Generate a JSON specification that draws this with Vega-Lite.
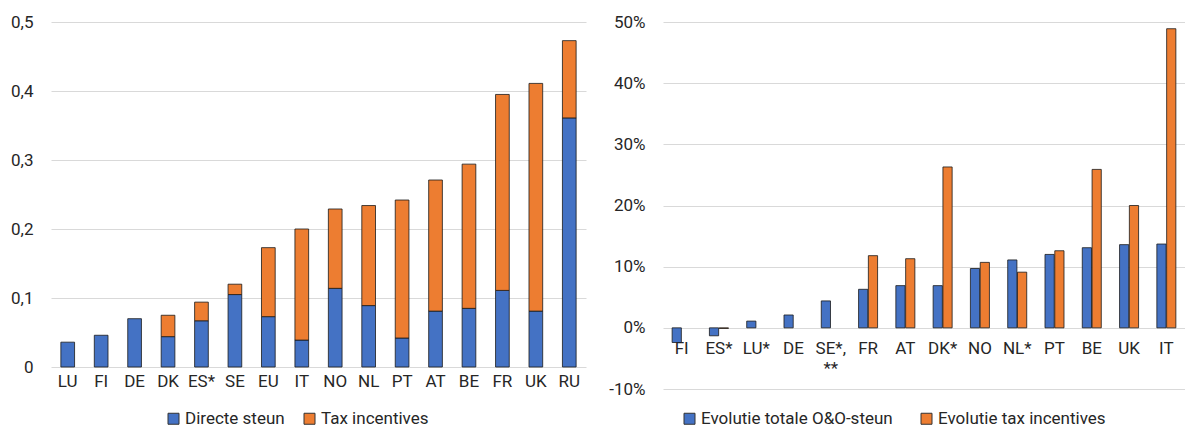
{
  "$schema": "https://vega.github.io/schema/vega-lite/v6.json",
  "padding": {"left": 0, "top": 13, "right": 2, "bottom": 0},
  "background": "white",
  "config": {
    "font": "Roboto",
    "view": {"stroke": null},
    "axis": {
      "labelFont": "Roboto",
      "labelFontSize": 17,
      "labelColor": "#262626",
      "domain": false,
      "ticks": false,
      "gridColor": "#d9d9d9",
      "gridWidth": 1,
      "title": null
    },
    "legend": {
      "labelFont": "Roboto",
      "labelFontSize": 17,
      "labelColor": "#262626",
      "labelLimit": 0,
      "symbolType": "square",
      "symbolSize": 121,
      "symbolStrokeColor": "#333333",
      "symbolStrokeWidth": 1,
      "labelOffset": 3,
      "title": null
    },
    "concat": {"spacing": 22}
  },
  "resolve": {"scale": {"color": "independent"}},
  "hconcat": [
    {
      "width": 535,
      "height": 345,
      "data": {
        "values": [
          {"land": "LU", "type": "Directe steun", "waarde": 0.036},
          {"land": "FI", "type": "Directe steun", "waarde": 0.046},
          {"land": "DE", "type": "Directe steun", "waarde": 0.070},
          {"land": "DK", "type": "Directe steun", "waarde": 0.044},
          {"land": "DK", "type": "Tax incentives", "waarde": 0.031},
          {"land": "ES*", "type": "Directe steun", "waarde": 0.067},
          {"land": "ES*", "type": "Tax incentives", "waarde": 0.027},
          {"land": "SE", "type": "Directe steun", "waarde": 0.105},
          {"land": "SE", "type": "Tax incentives", "waarde": 0.015},
          {"land": "EU", "type": "Directe steun", "waarde": 0.073},
          {"land": "EU", "type": "Tax incentives", "waarde": 0.100},
          {"land": "IT", "type": "Directe steun", "waarde": 0.039},
          {"land": "IT", "type": "Tax incentives", "waarde": 0.161},
          {"land": "NO", "type": "Directe steun", "waarde": 0.114},
          {"land": "NO", "type": "Tax incentives", "waarde": 0.115},
          {"land": "NL", "type": "Directe steun", "waarde": 0.089},
          {"land": "NL", "type": "Tax incentives", "waarde": 0.145},
          {"land": "PT", "type": "Directe steun", "waarde": 0.042},
          {"land": "PT", "type": "Tax incentives", "waarde": 0.200},
          {"land": "AT", "type": "Directe steun", "waarde": 0.081},
          {"land": "AT", "type": "Tax incentives", "waarde": 0.190},
          {"land": "BE", "type": "Directe steun", "waarde": 0.085},
          {"land": "BE", "type": "Tax incentives", "waarde": 0.209},
          {"land": "FR", "type": "Directe steun", "waarde": 0.111},
          {"land": "FR", "type": "Tax incentives", "waarde": 0.284},
          {"land": "UK", "type": "Directe steun", "waarde": 0.081},
          {"land": "UK", "type": "Tax incentives", "waarde": 0.330},
          {"land": "RU", "type": "Directe steun", "waarde": 0.361},
          {"land": "RU", "type": "Tax incentives", "waarde": 0.112}
        ]
      },
      "mark": {"type": "bar", "stroke": "#1a1a1a", "strokeWidth": 0.8},
      "encoding": {
        "x": {
          "field": "land",
          "type": "nominal",
          "sort": null,
          "scale": {"paddingInner": 0.59, "paddingOuter": 0.295},
          "axis": {"labelAngle": 0, "labelPadding": 6, "grid": false}
        },
        "y": {
          "field": "waarde",
          "type": "quantitative",
          "scale": {"domain": [0, 0.5], "nice": false},
          "axis": {
            "values": [0, 0.1, 0.2, 0.3, 0.4, 0.5],
            "labelExpr": "datum.value == 0 ? '0' : replace(format(datum.value, '.1f'), '.', ',')",
            "labelPadding": 18,
            "minExtent": 51,
            "maxExtent": 51
          }
        },
        "order": {"field": "type", "sort": "ascending"},
        "color": {
          "field": "type",
          "type": "nominal",
          "scale": {"domain": ["Directe steun", "Tax incentives"], "range": ["#4472C4", "#ED7D31"]},
          "legend": {"orient": "none", "direction": "horizontal", "columnPadding": 16, "legendX": 114, "legendY": 388}
        }
      }
    },
    {
      "width": 522,
      "height": 367,
      "data": {
        "values": [
          {"land": "FI", "reeks": "Evolutie totale O&O-steun", "waarde": -2.4},
          {"land": "ES*", "reeks": "Evolutie totale O&O-steun", "waarde": -1.3},
          {"land": "ES*", "reeks": "Evolutie tax incentives", "waarde": -0.1},
          {"land": "LU*", "reeks": "Evolutie totale O&O-steun", "waarde": 1.1},
          {"land": "DE", "reeks": "Evolutie totale O&O-steun", "waarde": 2.1},
          {"land": "SE*, **", "reeks": "Evolutie totale O&O-steun", "waarde": 4.4},
          {"land": "FR", "reeks": "Evolutie totale O&O-steun", "waarde": 6.3},
          {"land": "FR", "reeks": "Evolutie tax incentives", "waarde": 11.8},
          {"land": "AT", "reeks": "Evolutie totale O&O-steun", "waarde": 6.9},
          {"land": "AT", "reeks": "Evolutie tax incentives", "waarde": 11.3},
          {"land": "DK*", "reeks": "Evolutie totale O&O-steun", "waarde": 6.9},
          {"land": "DK*", "reeks": "Evolutie tax incentives", "waarde": 26.3},
          {"land": "NO", "reeks": "Evolutie totale O&O-steun", "waarde": 9.7},
          {"land": "NO", "reeks": "Evolutie tax incentives", "waarde": 10.7},
          {"land": "NL*", "reeks": "Evolutie totale O&O-steun", "waarde": 11.1},
          {"land": "NL*", "reeks": "Evolutie tax incentives", "waarde": 9.1},
          {"land": "PT", "reeks": "Evolutie totale O&O-steun", "waarde": 12.0},
          {"land": "PT", "reeks": "Evolutie tax incentives", "waarde": 12.6},
          {"land": "BE", "reeks": "Evolutie totale O&O-steun", "waarde": 13.1},
          {"land": "BE", "reeks": "Evolutie tax incentives", "waarde": 25.9},
          {"land": "UK", "reeks": "Evolutie totale O&O-steun", "waarde": 13.6},
          {"land": "UK", "reeks": "Evolutie tax incentives", "waarde": 20.0},
          {"land": "IT", "reeks": "Evolutie totale O&O-steun", "waarde": 13.7},
          {"land": "IT", "reeks": "Evolutie tax incentives", "waarde": 48.9}
        ]
      },
      "mark": {"type": "bar", "stroke": "#1a1a1a", "strokeWidth": 0.8},
      "encoding": {
        "x": {
          "field": "land",
          "type": "nominal",
          "sort": null,
          "scale": {"paddingInner": 0.49, "paddingOuter": 0.245},
          "axis": {
            "labelAngle": 0,
            "offset": -61.2,
            "labelPadding": 13,
            "labelLineHeight": 20,
            "grid": false,
            "labelExpr": "datum.value == 'SE*, **' ? ['SE*,', '**'] : datum.value"
          }
        },
        "xOffset": {
          "field": "reeks",
          "type": "nominal",
          "scale": {"domain": ["Evolutie totale O&O-steun", "Evolutie tax incentives"], "paddingInner": 0.06}
        },
        "y": {
          "field": "waarde",
          "type": "quantitative",
          "stack": null,
          "scale": {"domain": [-10, 50], "nice": false},
          "axis": {
            "values": [-10, 0, 10, 20, 30, 40, 50],
            "labelExpr": "datum.value + '%'",
            "labelPadding": 18,
            "minExtent": 50,
            "maxExtent": 50
          }
        },
        "color": {
          "field": "reeks",
          "type": "nominal",
          "scale": {"domain": ["Evolutie totale O&O-steun", "Evolutie tax incentives"], "range": ["#4472C4", "#ED7D31"]},
          "legend": {"orient": "none", "direction": "horizontal", "columnPadding": 25, "legendX": 18, "legendY": 388}
        }
      }
    }
  ]
}
